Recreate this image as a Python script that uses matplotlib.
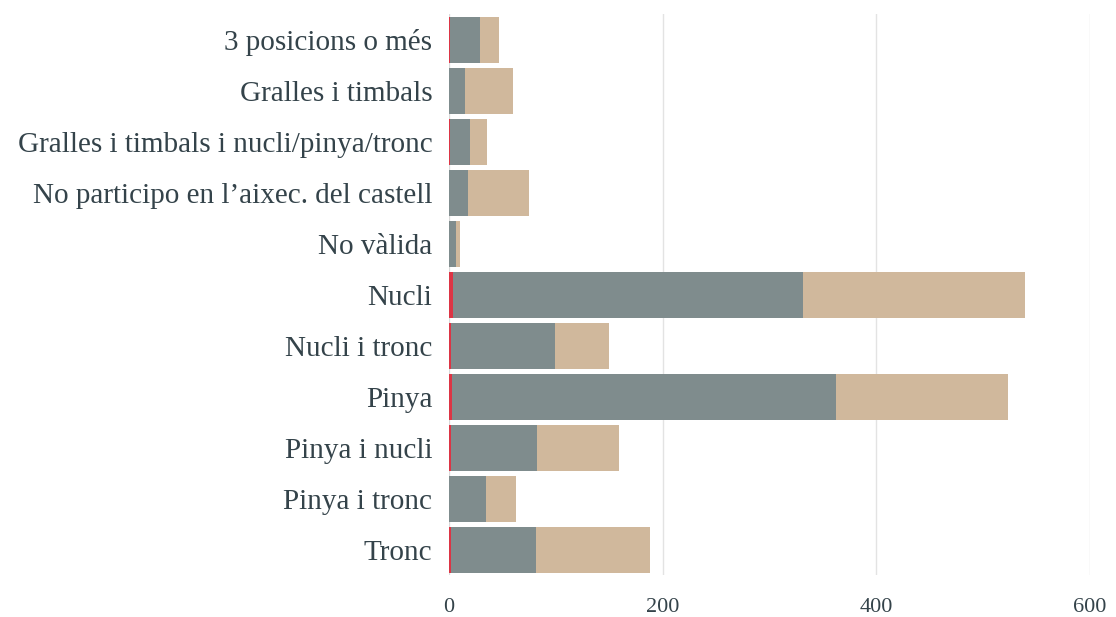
import matplotlib.pyplot as plt
import numpy as np

categories = ["3 posicions o més", "Gralles i timbals", "Gralles i timbals i nucli/pinya/tronc",
              "No participo en l’aixec. del castell", "No vàlida", "Nucli", "Nucli i tronc",
              "Pinya", "Pinya i nucli", "Pinya i tronc", "Tronc"]
red_vals = [1, 0, 1, 0, 0, 4, 2, 3, 2, 0, 2]
grey_vals = [28, 15, 19, 18, 7, 327, 97, 359, 80, 35, 79]
tan_vals = [18, 45, 16, 57, 3, 208, 51, 161, 77, 28, 107]
xticks = [0, 200, 400, 600]

text_color = "#34434a"
plt.rcParams['font.family'] = ['Liberation Serif', 'DejaVu Serif']

fig = plt.figure(figsize=(11.16, 6.17), dpi=100)
ax = fig.add_axes([0.4023, 0.0673, 0.5744, 0.9092])

y = np.arange(len(categories))
red = np.array(red_vals)
grey = np.array(grey_vals)
tan = np.array(tan_vals)

ax.barh(y, red, height=0.9, color="#dc3545", zorder=3)
ax.barh(y, grey, left=red, height=0.9, color="#7f8c8d", zorder=3)
ax.barh(y, tan, left=red + grey, height=0.9, color="#d0b89c", zorder=3)

ax.set_ylim(len(categories) - 0.5, -0.5)
ax.set_xlim(0, 600)
ax.set_yticks(y)
ax.set_yticklabels(categories, fontsize=21, color=text_color)
ax.set_xticks(xticks)
ax.set_xticklabels([str(t) for t in xticks], fontsize=16, color=text_color)
ax.tick_params(axis='y', length=0, pad=12)
ax.tick_params(axis='x', length=0, pad=16)
ax.xaxis.grid(True, color="#e3e3e3", linewidth=1, zorder=0)
for s in ax.spines.values():
    s.set_visible(False)
ax.axvline(0, color="#d8d8d8", linewidth=1.2, zorder=2)

plt.savefig("out.png", dpi=100)
